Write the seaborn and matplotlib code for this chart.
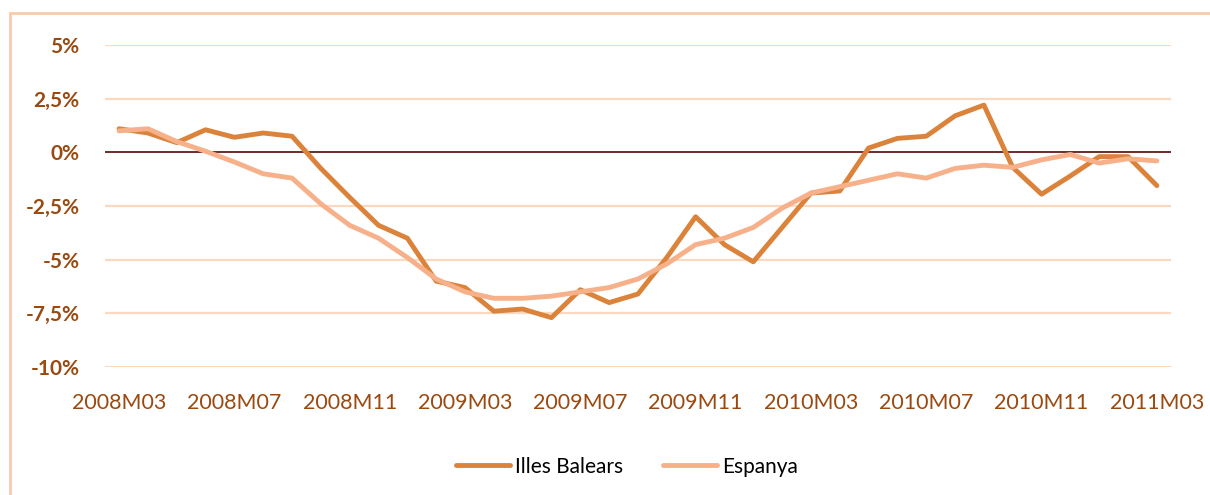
import pandas as pd
import matplotlib.pyplot as plt
import matplotlib.patches as mpatches
import seaborn as sns

# Monthly series, 2008M03 .. 2011M03 (values in %)
months = [f"{y}M{m:02d}" for y in range(2008, 2012) for m in range(1, 13)]
months = months[months.index("2008M03"):months.index("2011M03") + 1]

illes_balears = [1.1, 0.9, 0.45, 1.05, 0.7, 0.9, 0.75, -0.75, -2.1, -3.4,
                 -4.0, -6.0, -6.3, -7.4, -7.3, -7.7, -6.4, -7.0, -6.6, -4.9,
                 -3.0, -4.3, -5.1, -3.5, -1.9, -1.8, 0.2, 0.65, 0.75, 1.7,
                 2.2, -0.7, -1.95, -1.1, -0.2, -0.2, -1.55]
espanya = [1.0, 1.1, 0.5, 0.05, -0.45, -1.0, -1.2, -2.4, -3.4, -4.0,
           -4.9, -5.9, -6.5, -6.8, -6.8, -6.7, -6.5, -6.3, -5.9, -5.2,
           -4.3, -4.0, -3.5, -2.6, -1.9, -1.6, -1.3, -1.0, -1.2, -0.75,
           -0.6, -0.7, -0.35, -0.1, -0.5, -0.3, -0.4]

y_ticks = [5, 2.5, 0, -2.5, -5, -7.5, -10]
y_labels = ["5%", "2,5%", "0%", "-2,5%", "-5%", "-7,5%", "-10%"]
x_tick_labels = months[::4]

df = pd.DataFrame({
    "month": months * 2,
    "value": illes_balears + espanya,
    "serie": ["Illes Balears"] * len(months) + ["Espanya"] * len(months),
})

sns.set_style("white")
plt.rcParams["font.family"] = ["Lato", "DejaVu Sans"]

brown = "#9A4A10"
fig = plt.figure(figsize=(12.1, 4.95), dpi=100)
ax = fig.add_axes([0.0865, 0.2586, 0.8815, 0.6505])

# outer chart frame
fig.patches.append(mpatches.Rectangle((10 / 1210, -0.1), 1.2, 1 - 13 / 495 + 0.1,
                                      transform=fig.transFigure, fill=False,
                                      edgecolor="#F8CBAD", linewidth=2))

for t in y_ticks:
    if t != 0:
        ax.axhline(t, color="#FCD9BE", linewidth=1.6, zorder=0)
ax.axhline(0, color="#6E2C2C", linewidth=1.4, zorder=1)

sns.lineplot(data=df, x="month", y="value", hue="serie", sort=False,
             palette={"Illes Balears": "#DB833A", "Espanya": "#F6B18A"},
             linewidth=3.5, ax=ax, legend=True, zorder=3)
for line in ax.lines[-2:]:
    line.set_solid_capstyle("round")
    line.set_solid_joinstyle("round")

ax.set_xlim(-0.5, len(months) - 0.5)
ax.set_ylim(-10, 5)
ax.set_xticks(range(0, len(months), 4))
ax.set_xticklabels(x_tick_labels, fontsize=15.5, color=brown)
ax.set_yticks(y_ticks)
ax.set_yticklabels(y_labels, fontsize=15, color=brown, fontweight="bold")
ax.tick_params(axis="x", length=0, pad=19)
ax.tick_params(axis="y", length=0, pad=18)
ax.set_xlabel("")
ax.set_ylabel("")
for s in ax.spines.values():
    s.set_visible(False)

handles, labels = ax.get_legend_handles_labels()
leg = ax.legend(handles, labels, loc="center", bbox_to_anchor=(0.518, 0.057),
                bbox_transform=fig.transFigure, ncol=2, frameon=False,
                fontsize=15, handlelength=2.6, columnspacing=1.9, handletextpad=0.25)
for txt in leg.get_texts():
    txt.set_color("black")

fig.savefig("out.png", dpi=100)
